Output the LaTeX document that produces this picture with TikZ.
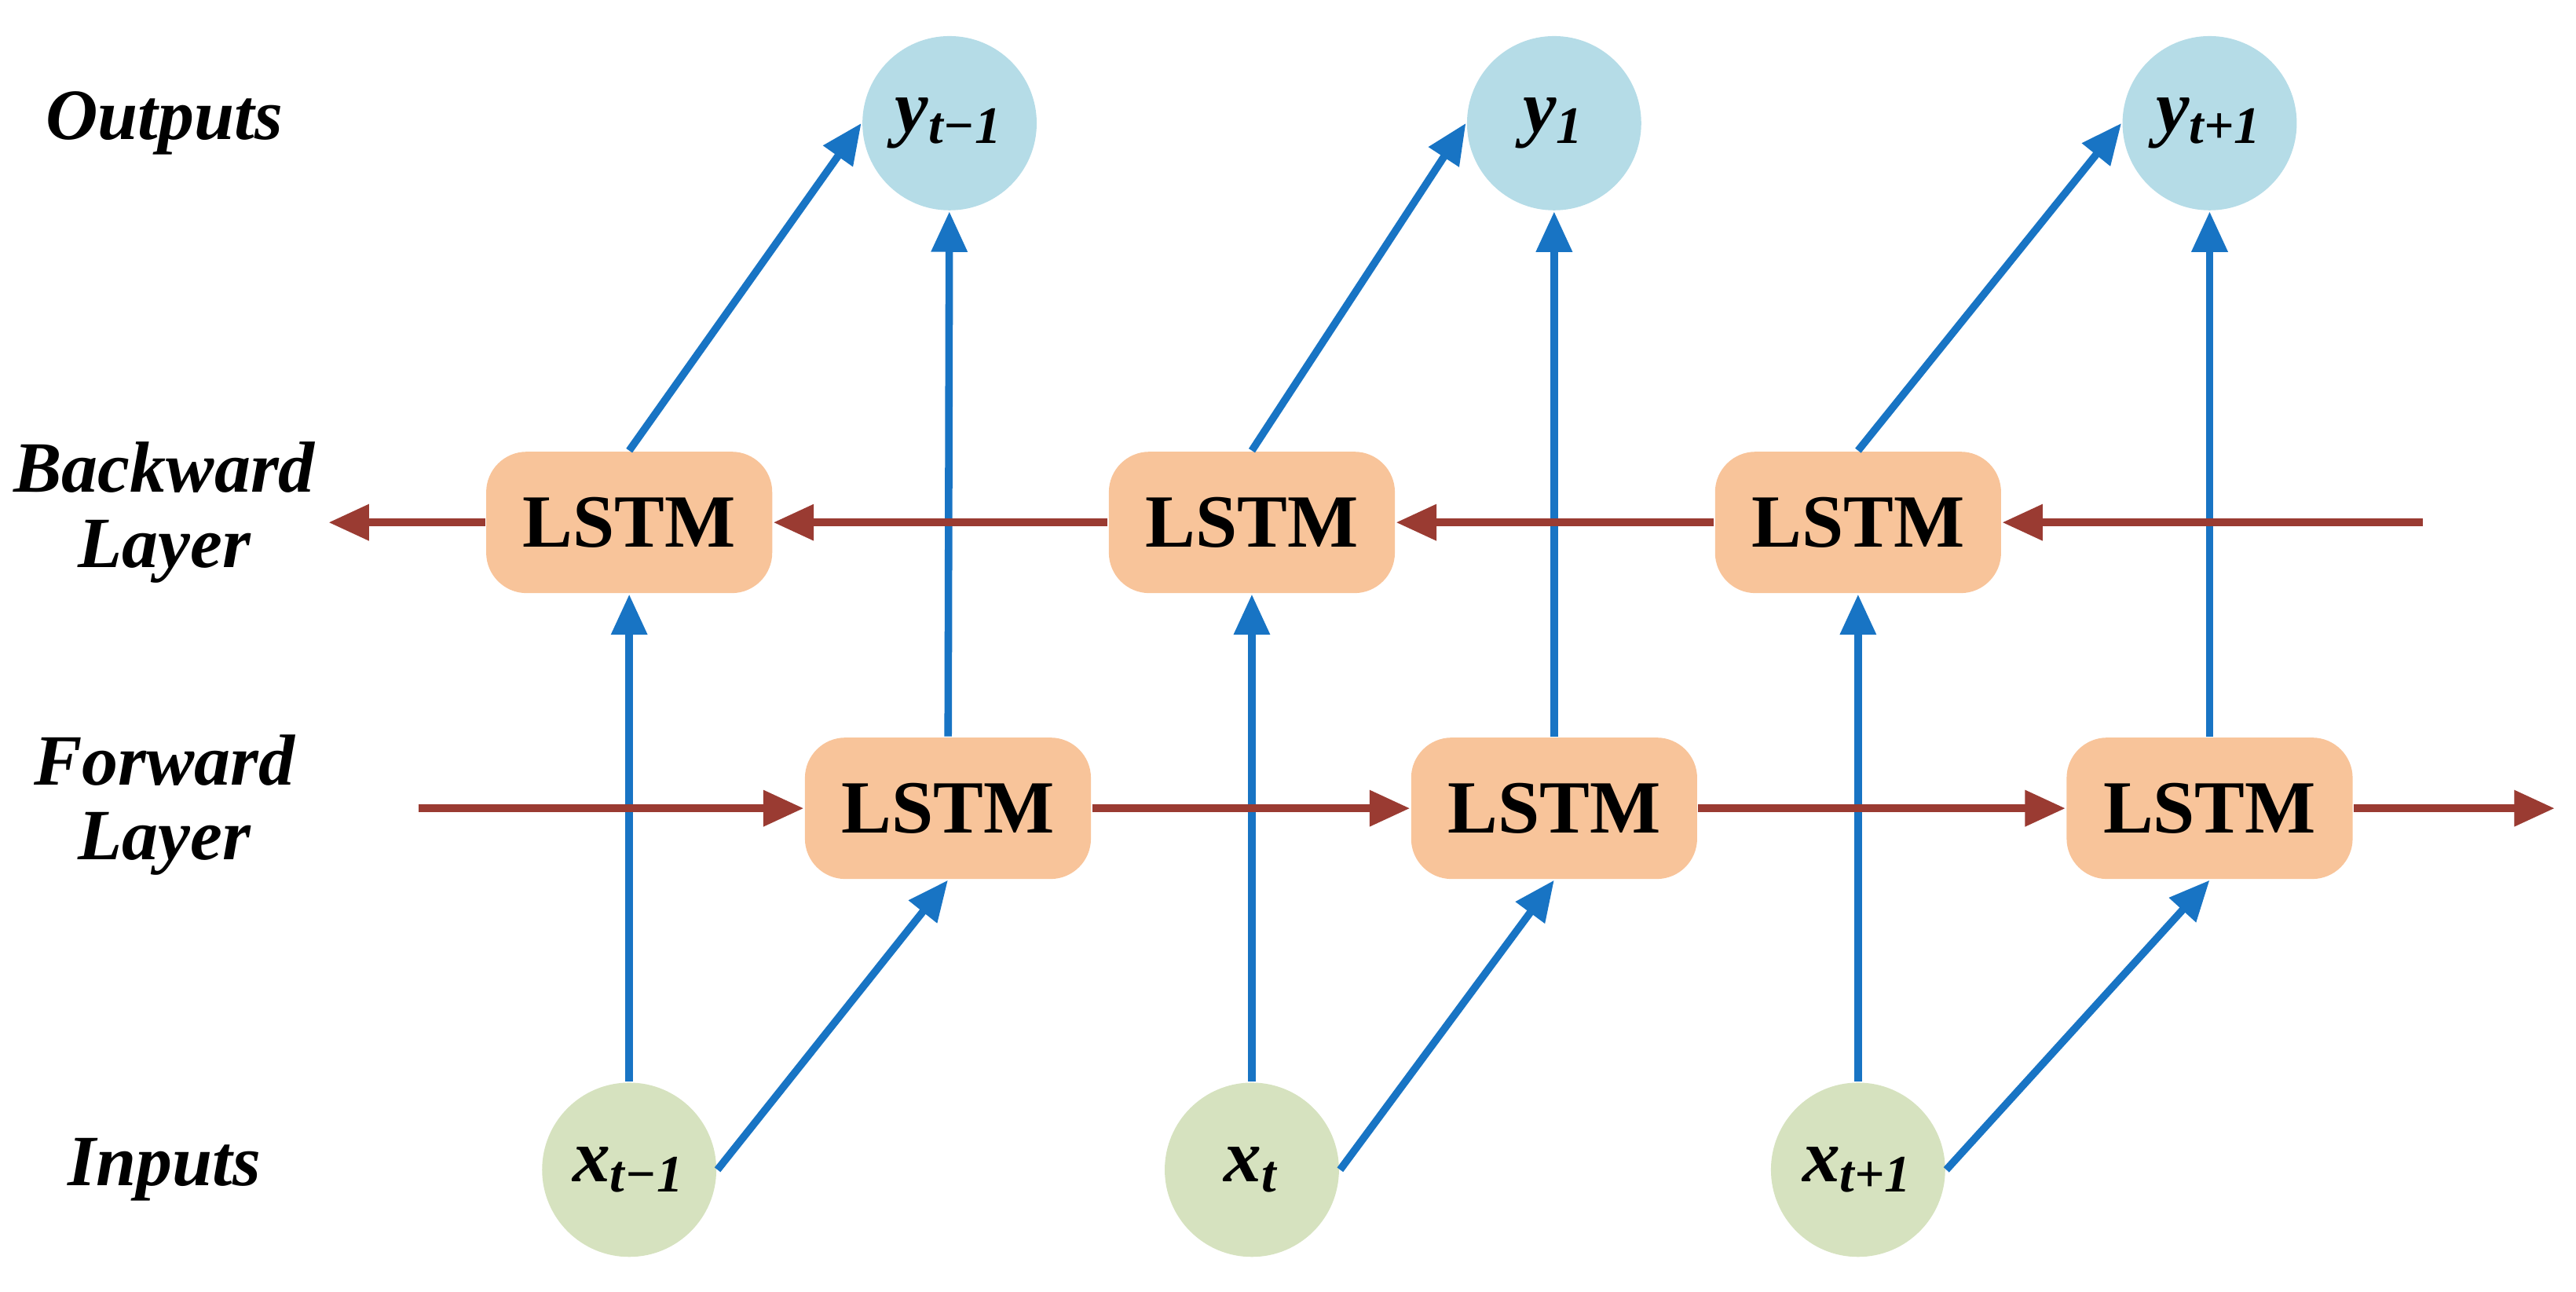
\documentclass[tikz,border=0pt]{standalone}
\usepackage{fontspec}
\setmainfont{Liberation Serif}
\usetikzlibrary{arrows.meta}
\definecolor{outc}{HTML}{B5DCE7}
\definecolor{inc}{HTML}{D6E2BF}
\definecolor{boxc}{HTML}{F8C49A}
\definecolor{blu}{HTML}{1874C4}
\definecolor{red}{HTML}{9A3B32}
\begin{document}
\begin{tikzpicture}[x=0.01cm,y=-0.01cm,
  lstm/.style={fill=boxc,rounded corners=7pt,minimum width=1.74cm,minimum height=0.86cm,font=\fontsize{13}{13}\selectfont\bfseries},
  outn/.style={circle,fill=outc,minimum size=1.06cm,inner sep=0pt,font=\fontsize{13}{13}\selectfont\bfseries\itshape},
  inn/.style={circle,fill=inc,minimum size=1.06cm,inner sep=0pt,font=\fontsize{13}{13}\selectfont\bfseries\itshape},
  lab/.style={align=center,font=\fontsize{12.5}{13}\selectfont\bfseries\itshape},
  ba/.style={draw=blu,line width=1.3pt,-{Triangle[length=7pt,width=6pt]}},
  ra/.style={draw=red,line width=1.3pt,-{Triangle[length=7pt,width=6pt]}}]
\useasboundingbox (0,0) rectangle (1568,786);
\node[lab] (lo) at (100,75) {Outputs};
\node[lab] (lb) at (100,312) {Backward\\Layer};
\node[lab] (lf) at (100,490) {Forward\\Layer};
\node[lab] (li) at (100,712) {Inputs};
\node[outn] (y1) at (578,75) {y\textsubscript{t−1}};
\node[outn] (y2) at (946,75) {y\textsubscript{1}};
\node[outn] (y3) at (1345,75) {y\textsubscript{t+1}};
\node[lstm] (b1) at (383,318) {LSTM};
\node[lstm] (b2) at (762,318) {LSTM};
\node[lstm] (b3) at (1131,318) {LSTM};
\node[lstm] (f1) at (577,492) {LSTM};
\node[lstm] (f2) at (946,492) {LSTM};
\node[lstm] (f3) at (1345,492) {LSTM};
\node[inn] (x1) at (383,712) {x\textsubscript{t−1}};
\node[inn] (x2) at (762,712) {x\textsubscript{t}};
\node[inn] (x3) at (1131,712) {x\textsubscript{t+1}};
\coordinate (bs) at (1475,318);
\coordinate (be) at (200,318);
\coordinate (fs) at (255,492);
\coordinate (fe) at (1555,492);
\foreach \i in {1,2,3}{
  \draw[ba] (x\i) -- (b\i);
  \draw[ba] (x\i.east) -- (f\i.south);
  \draw[ba] (f\i) -- (y\i);
  \draw[ba] (b\i.north) -- (y\i.west);
}
\draw[ra] (bs) -- (b3);
\draw[ra] (b3) -- (b2);
\draw[ra] (b2) -- (b1);
\draw[ra] (b1) -- (be);
\draw[ra] (fs) -- (f1);
\draw[ra] (f1) -- (f2);
\draw[ra] (f2) -- (f3);
\draw[ra] (f3) -- (fe);
\end{tikzpicture}
\end{document}
